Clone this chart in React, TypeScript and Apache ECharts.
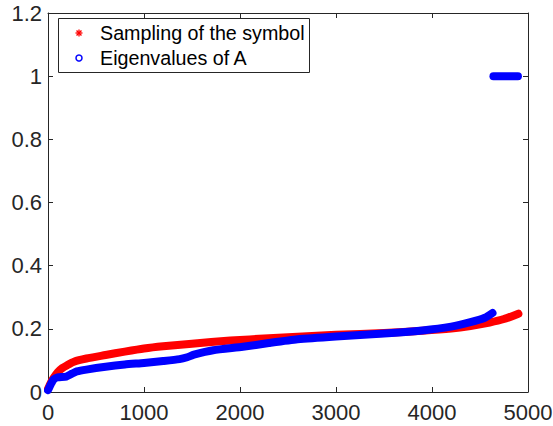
import React, { useEffect, useRef } from "react";
import * as echarts from "echarts";

const samplingX = [0, 30, 60, 100, 150, 200, 270, 400, 600, 800, 1000, 1200, 1500, 1900, 2300, 2600, 3000, 3500, 3900, 4200, 4400, 4600, 4750, 4900];
const samplingY = [0.01, 0.03, 0.045, 0.062, 0.076, 0.085, 0.096, 0.106, 0.117, 0.128, 0.138, 0.145, 0.153, 0.163, 0.17, 0.175, 0.181, 0.187, 0.194, 0.201, 0.209, 0.22, 0.231, 0.248];

const eigX = [0, 30, 60, 100, 190, 250, 300, 400, 600, 800, 1000, 1200, 1370, 1450, 1520, 1720, 2030, 2300, 2600, 3000, 3500, 3900, 4200, 4400, 4550, 4630];
const eigY = [0.006, 0.025, 0.04, 0.046, 0.049, 0.058, 0.065, 0.071, 0.08, 0.087, 0.092, 0.098, 0.104, 0.11, 0.118, 0.132, 0.143, 0.155, 0.167, 0.176, 0.185, 0.195, 0.207, 0.221, 0.235, 0.25];

const eigOnesX = [4640, 4895];
const eigOnesY = [1, 1];

const seriesNames = ["Sampling of the symbol", "Eigenvalues of A"];

const FONT = "'Liberation Sans', Arial, Helvetica, sans-serif";
const AXIS_COLOR = "#262626";

export default function App() {
  const ref = useRef<HTMLDivElement>(null);

  useEffect(() => {
    if (!ref.current) return;
    const chart = echarts.init(ref.current, undefined, { renderer: "svg" });

    const zip = (xs: number[], ys: number[]) => xs.map((x, i) => [x, ys[i]]);

    const axisCommon = {
      axisLine: { show: true, onZero: false, lineStyle: { color: AXIS_COLOR, width: 1 } },
      axisTick: { show: true, inside: true, length: 5, lineStyle: { color: AXIS_COLOR } },
      splitLine: { show: false },
    };

    const star = (cx: number, cy: number, r: number) => {
      const d = r * Math.SQRT1_2;
      const segs = [
        [cx - r, cy, cx + r, cy],
        [cx, cy - r, cx, cy + r],
        [cx - d, cy - d, cx + d, cy + d],
        [cx - d, cy + d, cx + d, cy - d],
      ];
      return segs.map((s) => ({
        type: "line",
        shape: { x1: s[0], y1: s[1], x2: s[2], y2: s[3] },
        style: { stroke: "#ff0000", lineWidth: 1.3 },
      }));
    };

    chart.setOption({
      animation: false,
      backgroundColor: "#ffffff",
      grid: { left: 48, right: 25, top: 13, bottom: 34, containLabel: false, outerBoundsMode: "none" },
      xAxis: [
        {
          type: "value",
          position: "bottom",
          min: 0,
          max: 5000,
          interval: 1000,
          ...axisCommon,
          axisLabel: {
            fontSize: 22,
            fontFamily: FONT,
            color: AXIS_COLOR,
            margin: 9,
            formatter: (v: number) => String(v),
          },
        },
        {
          type: "value",
          position: "top",
          min: 0,
          max: 5000,
          interval: 1000,
          ...axisCommon,
          axisLabel: { show: false },
        },
      ],
      yAxis: [
        {
          type: "value",
          position: "left",
          min: 0,
          max: 1.2,
          interval: 0.2,
          ...axisCommon,
          axisLabel: { fontSize: 22, fontFamily: FONT, color: AXIS_COLOR, margin: 6 },
        },
        {
          type: "value",
          position: "right",
          min: 0,
          max: 1.2,
          interval: 0.2,
          ...axisCommon,
          axisLabel: { show: false },
        },
      ],
      graphic: [
        {
          type: "group",
          z: 100,
          children: [
            {
              type: "rect",
              shape: { x: 58.5, y: 18.5, width: 251, height: 54 },
              style: { fill: "#ffffff", stroke: AXIS_COLOR, lineWidth: 1 },
            },
            ...star(79, 33, 3.5),
            {
              type: "circle",
              shape: { cx: 79, cy: 58, r: 3 },
              style: { fill: "none", stroke: "#0000ff", lineWidth: 1.5 },
            },
            {
              type: "text",
              x: 100,
              y: 33,
              style: {
                text: seriesNames[0],
                font: `19.7px ${FONT}`,
                fill: "#000000",
                verticalAlign: "middle",
                align: "left",
              },
            },
            {
              type: "text",
              x: 100,
              y: 58,
              style: {
                text: seriesNames[1],
                font: `19.7px ${FONT}`,
                fill: "#000000",
                verticalAlign: "middle",
                align: "left",
              },
            },
          ],
        },
      ],
      series: [
        {
          name: seriesNames[0],
          type: "line",
          data: zip(samplingX, samplingY),
          showSymbol: false,
          symbol: "none",
          smooth: 0.2,
          color: "#ff0000",
          lineStyle: { color: "#ff0000", width: 8, cap: "round", join: "round" },
          z: 2,
        },
        {
          name: seriesNames[1],
          type: "line",
          data: zip(eigX, eigY),
          showSymbol: false,
          symbol: "none",
          smooth: 0.2,
          color: "#0000ff",
          lineStyle: { color: "#0000ff", width: 8, cap: "round", join: "round" },
          z: 3,
        },
        {
          name: seriesNames[1],
          type: "line",
          data: zip(eigOnesX, eigOnesY),
          showSymbol: false,
          symbol: "none",
          color: "#0000ff",
          lineStyle: { color: "#0000ff", width: 8, cap: "round" },
          z: 3,
        },
      ],
    });

    return () => chart.dispose();
  }, []);

  return (
    <div
      ref={ref}
      style={{ position: "fixed", left: 0, top: 0, width: 553, height: 426, background: "#fff" }}
    />
  );
}
